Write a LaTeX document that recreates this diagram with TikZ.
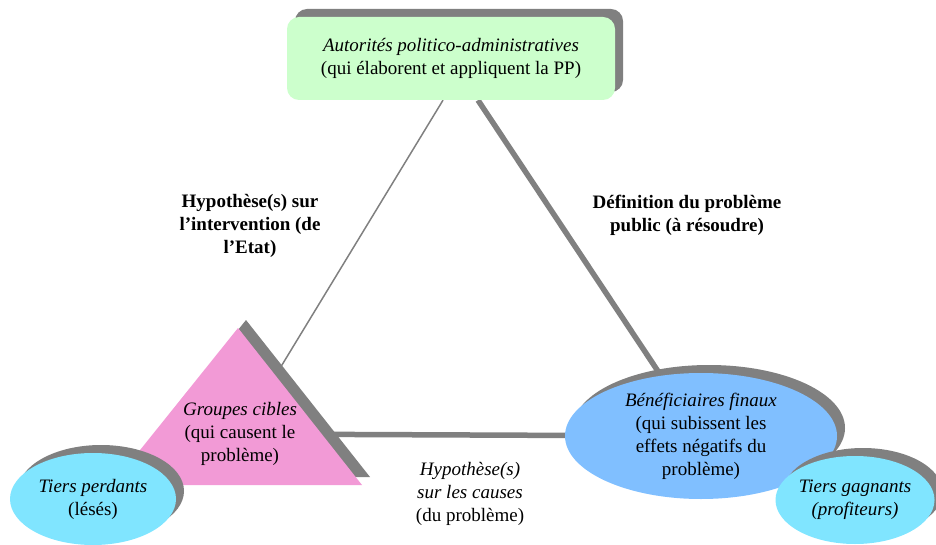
\documentclass[tikz,border=0pt]{standalone}
\usepackage{fontspec}
\setmainfont{Liberation Serif}
\usetikzlibrary{shapes.geometric,shadows,backgrounds}

\definecolor{ombre}{HTML}{808080}
\definecolor{vertpale}{HTML}{CCFFCC}
\definecolor{rosecible}{HTML}{F29AD6}
\definecolor{bleubenef}{HTML}{80BFFF}
\definecolor{bleutiers}{HTML}{80E5FF}

\newcommand{\taille}{\fontsize{19}{23}\selectfont}

\tikzset{
  ombrage/.style={drop shadow={shadow xshift=8pt, shadow yshift=8pt, opacity=1, fill=ombre}},
  boite/.style={rectangle, rounded corners=12pt, fill=vertpale, ombrage, minimum width=328pt, minimum height=83pt, align=center},
  acteur/.style={ellipse, ombrage, inner sep=0pt, align=center},
  hypo/.style={align=center, font=\taille\bfseries},
  lien/.style={draw=ombre, line width=5.5pt},
  lienfin/.style={draw=ombre, line width=1.5pt},
}

\begin{document}
\begin{tikzpicture}[x=1pt, y=-1pt, font=\taille]
    \useasboundingbox (0,0) rectangle (936,545);

    % Les autorités
    \node[boite] (aut) at (451,58.5) {\textit{Autorités politico-administratives}\\(qui élaborent et appliquent la PP)};

    % Le triangle des groupes cibles
    \fill[rosecible, ombrage] (238,328) -- (112,485) -- (362,485) -- cycle;
    \node[align=center] (cibles) at (240,434) {\textit{Groupes cibles}\\(qui causent le\\problème)};

    % Les acteurs en ellipse
    \node[acteur, fill=bleutiers, minimum width=166pt, minimum height=92pt] (perdants) at (93,499) {\textit{Tiers perdants}\\(lésés)};
    \node[acteur, fill=bleubenef, minimum width=272pt, minimum height=126pt] (benef) at (701,436) {\textit{Bénéficiaires finaux}\\(qui subissent les\\effets négatifs du\\problème)};
    \node[acteur, fill=bleutiers, minimum width=156pt, minimum height=88pt] (gagnants) at (855,500) {\textit{Tiers gagnants}\\\textit{(profiteurs)}};

    % Les liens du triangle
    \begin{pgfonlayer}{background}
      \draw[lienfin] ([xshift=-8pt]aut.south) -- (cibles.center);
      \draw[lien] ([xshift=27pt]aut.south) -- (benef.center);
      \draw[lien] (cibles.center) -- (benef.center);
    \end{pgfonlayer}

    % Etiquettes
    \node[hypo] (interv) at (250,226) {Hypothèse(s) sur\\l’intervention (de\\l’Etat)};
    \node[hypo] (defin) at (687,215) {Définition du problème\\public (à résoudre)};
    \node[align=center] (causes) at (470,494) {\textit{Hypothèse(s)}\\\textit{sur les causes}\\(du problème)};
\end{tikzpicture}
\end{document}
